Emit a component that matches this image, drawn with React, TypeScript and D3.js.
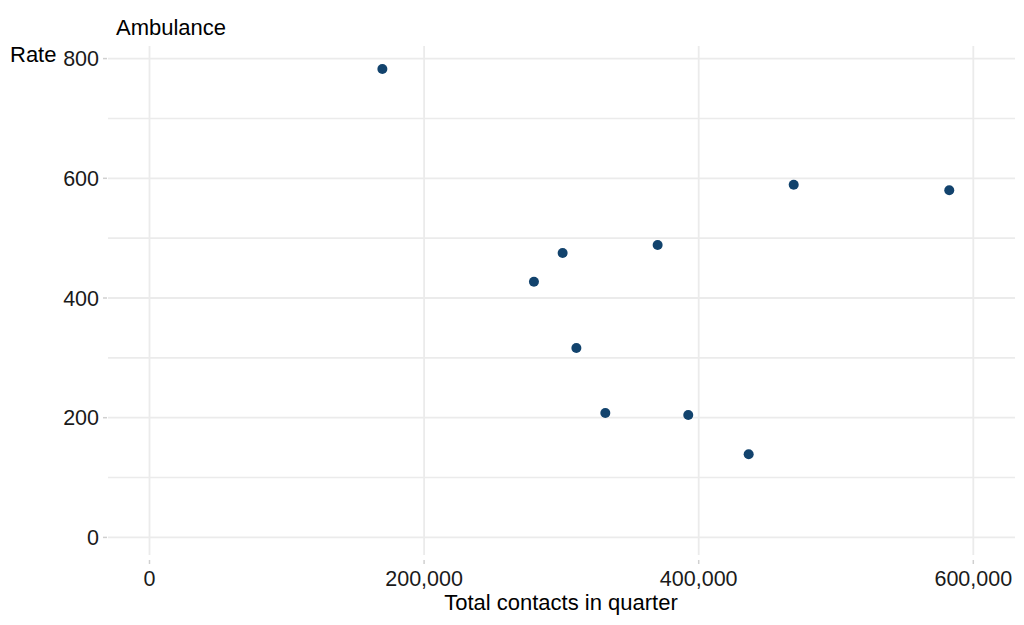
import React from "react";
import * as d3 from "d3";

const contacts = [169600, 280000, 300900, 310900, 332000, 370100, 392400, 436400, 469200, 582500];
const rates = [782.6, 427.2, 475.2, 316.5, 207.9, 488.6, 204.5, 138.8, 589.3, 580.0];
const xTicks = [0, 200000, 400000, 600000];
const yTicks = [0, 200, 400, 600, 800];
const yMinor = [100, 300, 500, 700];
const title = "Ambulance";
const yTitle = "Rate";
const xTitle = "Total contacts in quarter";

export default function App() {
  const W = 1024, H = 625;
  const left = 108, right = 1015, top = 46, bottom = 555;
  const x = d3.scaleLinear().domain([0, 600000]).range([149.5, 973.3]);
  const y = d3.scaleLinear().domain([0, 800]).range([537.4, 58.6]);
  const fmt = d3.format(",");
  const font = "Liberation Sans, Arial, sans-serif";
  const grid = "#ebebeb";
  return (
    <svg width={W} height={H} style={{ position: "absolute", left: 0, top: 0, background: "#fff" }} fontFamily={font}>
      {yMinor.map((v) => (
        <line key={"ym" + v} x1={left} x2={right} y1={y(v)} y2={y(v)} stroke={grid} strokeWidth={1.6} />
      ))}
      {yTicks.map((v) => (
        <line key={"yg" + v} x1={left} x2={right} y1={y(v)} y2={y(v)} stroke={grid} strokeWidth={1.8} />
      ))}
      {xTicks.map((v) => (
        <line key={"xg" + v} x1={x(v)} x2={x(v)} y1={top} y2={bottom} stroke={grid} strokeWidth={1.8} />
      ))}
      {yTicks.map((v) => (
        <g key={"yt" + v}>
          <line x1={103} x2={107} y1={y(v)} y2={y(v)} stroke="#d0d0d0" strokeWidth={1.5} />
          <text x={99} y={y(v)} dy="0.36em" textAnchor="end" fontSize={21.5} fill="#1a1a1a">{fmt(v)}</text>
        </g>
      ))}
      {xTicks.map((v) => (
        <g key={"xt" + v}>
          <line x1={x(v)} x2={x(v)} y1={560} y2={564} stroke="#d0d0d0" strokeWidth={1.5} />
          <text x={x(v)} y={586} textAnchor="middle" fontSize={21.5} fill="#1a1a1a">{fmt(v)}</text>
        </g>
      ))}
      {contacts.map((c, i) => (
        <circle key={"p" + i} cx={x(c)} cy={y(rates[i])} r={5} fill="#12436D" />
      ))}
      <text x={116} y={35} fontSize={22} fill="#000">{title}</text>
      <text x={10} y={62} fontSize={22} fill="#000">{yTitle}</text>
      <text x={561} y={610} textAnchor="middle" fontSize={22} fill="#000">{xTitle}</text>
    </svg>
  );
}
